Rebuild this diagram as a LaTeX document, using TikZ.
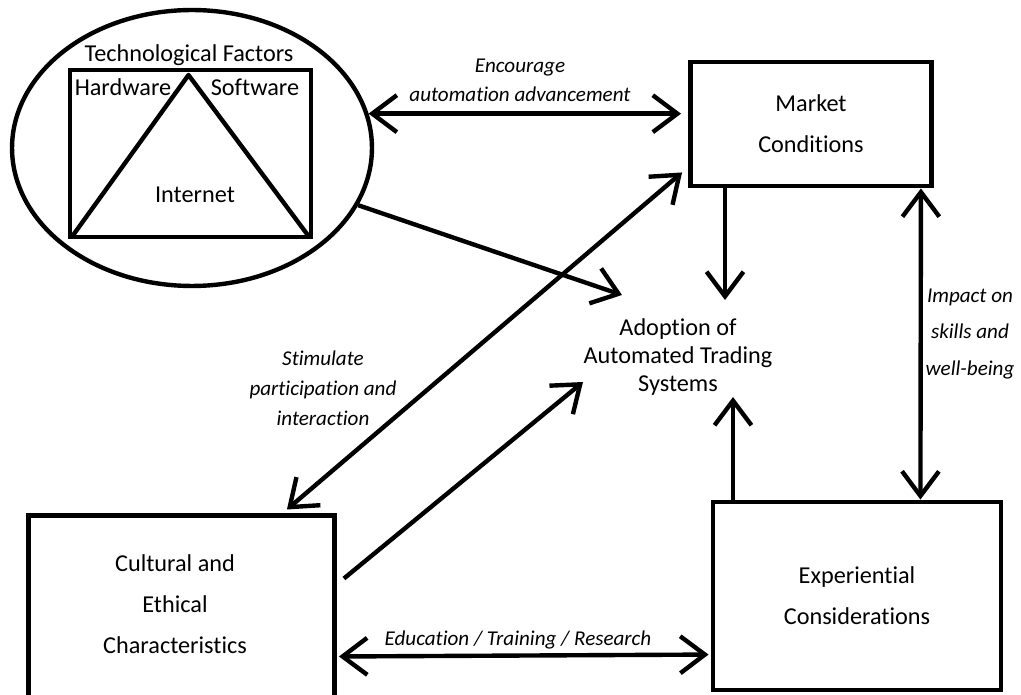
\documentclass[tikz,border=0pt]{standalone}
\usepackage{fontspec}
\setmainfont{Carlito}[Ligatures={NoCommon}]
\usetikzlibrary{arrows.meta, positioning, shapes.geometric}
\tikzset{
x=0.02cm, y=-0.02cm, % one unit is one pixel of the sketch, y runs down
block/.style={draw, line width=2.8pt}, % the boxes
txt/.style={align=center, font=\fontsize{13.8}{23.3}\selectfont}, % text in the boxes
lbl/.style={align=center, font=\itshape\fontsize{12}{16.5}\selectfont}, % labels of the arrows
barb/.tip={Straight Barb[length=14pt, width=21pt]},
one/.style={-barb, line width=2.5pt}, % one way arrow
both/.style={barb-barb, line width=2.5pt}, % two way arrow
}

\begin{document}
\begin{tikzpicture}
      \useasboundingbox (0,0) rectangle (1021,695);

      % technological factors
      \node[ellipse, draw, line width=2.5pt, minimum width=7.2cm, minimum height=5.52cm] (tech) at (192,148) {};
      \node[txt] (techname) at (189,55) {Technological Factors};
      \node[block, line width=2.6pt, outer sep=0pt, minimum width=4.82cm, minimum height=3.34cm] (frame) at (190.5,153.5) {};
      \draw[line width=2.5pt, line join=round] ([xshift=1pt]frame.south west) -- ([shift={(-2,5)}]frame.north) -- ([xshift=-1pt]frame.south east);
      \node[txt] (hw) at (123,87) {Hardware};
      \node[txt] (sw) at (255,87) {Software};
      \node[txt] (net) at (195,195) {Internet};

      % the other boxes
      \node[block, txt, minimum width=4.82cm, minimum height=2.48cm] (market) at (811,124) {Market\\Conditions};
      \node[block, txt, minimum width=5.76cm, minimum height=3.76cm] (exper) at (857,596) {Experiential\\Considerations};
      \node[block, minimum width=6.12cm, minimum height=4.6cm, anchor=north] (culture) at (181.5,513.5) {};
      \node[txt] (culturetxt) at (175,604) {Cultural and\\Ethical\\Characteristics};
      \node[align=center, font=\fontsize{13.8}{15.9}\selectfont] (adopt) at (678,357) {Adoption of\\Automated Trading\\Systems};

      % where the arrows meet the adoption text
      \coordinate (adoptA) at (622,295);
      \coordinate (adoptB) at (725,300);
      \coordinate (adoptC) at (583,382);
      \coordinate (adoptD) at (733,397);

      \draw[both] (tech.11) -- ([xshift=-4pt]tech.11 -| market.west);
      \draw[one] (tech.-19) -- (adoptA);
      \draw[both] ([shift={(-6,-16)}]market.south west) -- ([shift={(-50,-4)}]culture.north east);
      \draw[one] ([shift={(7,65)}]culture.north east) -- (adoptC);
      \draw[one] (market.south west -| adoptB) -- (adoptB);
      \draw[one] (exper.north west -| adoptD) -- (adoptD);
      \draw[both] ([shift={(-13,0)}]market.south east) -- ([shift={(-83,0)}]exper.north east);
      \draw[both] ([shift={(2,143)}]culture.north east) -- ([shift={(-2,155)}]exper.north west);

      % labels
      \node[lbl] (encourage) at (520,80) {Encourage\\automation advancement};
      \node[lbl, font=\itshape\fontsize{12}{17}\selectfont] (stimulate) at (323,388) {Stimulate\\participation and\\interaction};
      \node[lbl, font=\itshape\fontsize{12}{21}\selectfont] (impact) at (970,334) {Impact on\\skills and\\well-being};
      \node[lbl] (education) at (518,640) {Education / Training / Research};
    \end{tikzpicture}
\end{document}
